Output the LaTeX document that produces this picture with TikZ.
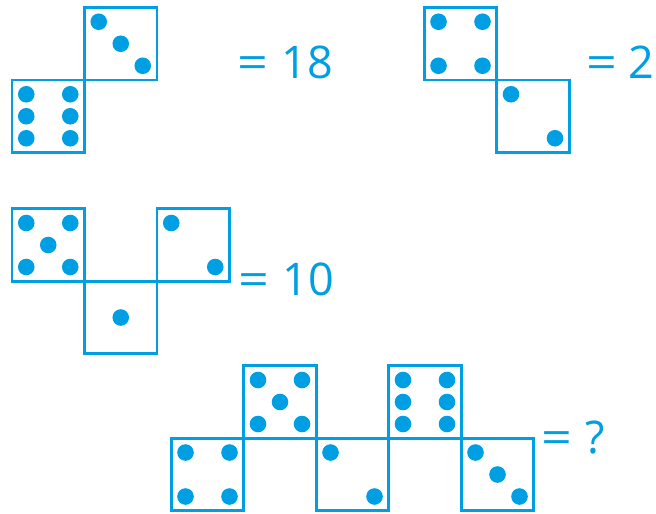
\documentclass[tikz,border=0pt]{standalone}
\usepackage{fontspec}
\setmainfont{Open Sans}
\usetikzlibrary{positioning}
\definecolor{dice}{RGB}{0,158,226}
\tikzset{
  die/.style={draw=dice,line width=2.6pt,minimum size=72.5pt,inner sep=0pt,outer sep=0pt},
  pip/.style={fill=dice},
  eq/.style={text=dice,font=\fontsize{45}{45}\selectfont,inner sep=0pt,anchor=base west},
}
\newcommand{\faceone}{0/0}
\newcommand{\facetwo}{-22/-22,22/22}
\newcommand{\facethree}{-22/-22,0/0,22/22}
\newcommand{\facefour}{-22/-22,22/-22,-22/22,22/22}
\newcommand{\facefive}{-22/-22,22/-22,0/0,-22/22,22/22}
\newcommand{\facesix}{-22/-22,22/-22,-22/0,22/0,-22/22,22/22}
\newcommand{\pips}[2]{\foreach \px/\py in #2 {\fill[pip] ([shift={(\px,\py)}]#1.center) circle (8.3pt);}}
\newcommand{\eqsign}{\scalebox{1.2}[1]{=}\hspace{0.3em}}

\begin{document}
\begin{tikzpicture}[x=1pt,y=-1pt]
  \useasboundingbox (0,0) rectangle (656,514);
  \node[die] (g1a) at (48.25,116.25) {};
  \node[die,above right=0pt of g1a] (g1b) {};
  \node[eq] (r1) at (237,78) {\eqsign 18};
  \pips{g1a}{\facesix} \pips{g1b}{\facethree}

  \node[die] (g2a) at (460.5,43.75) {};
  \node[die,below right=0pt of g2a] (g2b) {};
  \node[eq] (r2) at (586,78) {\eqsign\hspace{-0.05em}2};
  \pips{g2a}{\facefour} \pips{g2b}{\facetwo}

  \node[die] (g3a) at (48.25,245) {};
  \node[die,below right=0pt of g3a] (g3b) {};
  \node[die,above right=0pt of g3b] (g3c) {};
  \node[eq] (r3) at (238,295) {\eqsign 10};
  \pips{g3a}{\facefive} \pips{g3b}{\faceone} \pips{g3c}{\facetwo}

  \node[die] (g4a) at (207.5,474.5) {};
  \node[die,above right=0pt of g4a] (g4b) {};
  \node[die,below right=0pt of g4b] (g4c) {};
  \node[die,above right=0pt of g4c] (g4d) {};
  \node[die,below right=0pt of g4d] (g4e) {};
  \node[eq] (r4) at (541,453) {\eqsign ?};
  \pips{g4a}{\facefour} \pips{g4b}{\facefive} \pips{g4c}{\facetwo}
  \pips{g4d}{\facesix} \pips{g4e}{\facethree}
\end{tikzpicture}
\end{document}
